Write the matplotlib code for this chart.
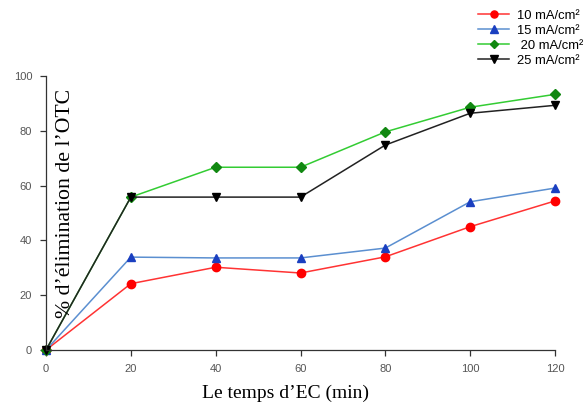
import numpy as np
import matplotlib
matplotlib.use('Agg')
import matplotlib.pyplot as plt

# data
temps = [0, 20, 40, 60, 80, 100, 120]
i10 = [0, 24.2, 30.2, 28.1, 34.0, 45.0, 54.4]
i15 = [0, 33.9, 33.6, 33.6, 37.2, 54.1, 59.1]
i20 = [0, 55.8, 66.7, 66.7, 79.6, 88.6, 93.3]
i25 = [0, 55.8, 55.8, 55.8, 74.8, 86.4, 89.3]
labels = ['10 mA/cm²', '15 mA/cm²', ' 20 mA/cm²', '25 mA/cm²']

fig = plt.figure(figsize=(5.85, 4.07), dpi=100)
ax = fig.add_axes([46/585, 1-350/407, 509/585, 274/407])

# (values, line colour, marker, marker colour)
series = [(i10, '#ff3333', 'o', '#ff0000'),
          (i15, '#5b8fd0', '^', '#1a3fc0'),
          (i20, '#33cc33', 'D', '#118811'),
          (i25, '#222222', 'v', '#000000')]
handles = []
for (vals, lc, mk, mc), lab in zip(series, labels):
    ms = 5 if mk == 'D' else 6
    h, = ax.plot(temps, vals, color=lc, lw=1.1, marker=mk, ms=ms,
                 mfc=mc, mec=mc, label=lab)
    handles.append(h)

ax.set_xlim(0, 120)
ax.set_ylim(0, 100)
ax.set_xticks(np.arange(0, 121, 20))
ax.set_yticks(np.arange(0, 101, 20))
for s in ['top', 'right']:
    ax.spines[s].set_visible(False)
for s in ['left', 'bottom']:
    ax.spines[s].set_color('#333333')
    ax.spines[s].set_linewidth(0.9)
ax.tick_params(direction='out', length=4, width=0.9, color='#333333',
               labelsize=8, labelcolor='#555555', pad=6)
for l in ax.get_xticklabels() + ax.get_yticklabels():
    l.set_family('Liberation Sans')
for p in ax.lines:
    p.set_clip_on(False)

# axis titles, in serif as in the reference
fig.text(285/585, 1-393/407, 'Le temps d\u2019EC (min)', ha='center', va='center',
         family='Liberation Serif', fontsize=14)
fig.text(65/585, 1-203/407, '% d\u2019élimination de l\u2019OTC', ha='center', va='center',
         rotation=90, family='Liberation Serif', fontsize=15.7)

# legend sits above the axes, top right
leg = fig.legend(handles=handles, loc='upper left', bbox_to_anchor=(478/585, 1-9.5/407),
                 frameon=False, handlelength=2.4, labelspacing=0.22,
                 handletextpad=0.6, borderaxespad=0, borderpad=0, markerscale=0.85,
                 prop={'family': 'Liberation Sans', 'size': 9.4})

fig.savefig('out.png', dpi=100)
